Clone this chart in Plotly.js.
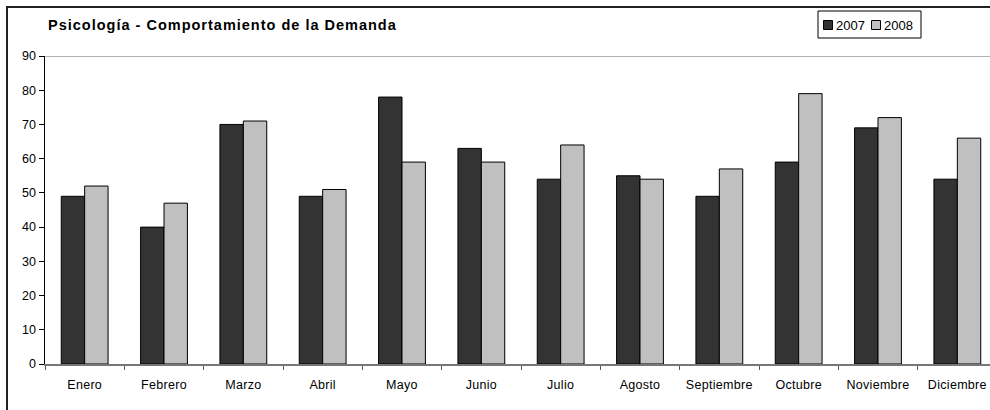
<!DOCTYPE html>
<html>
<head>
<meta charset="utf-8">
<script src="https://cdn.plot.ly/plotly-3.0.1.min.js"></script>
<style>
html,body{margin:0;padding:0;background:#fff;overflow:hidden;width:990px;height:410px;}
#wrap{position:relative;width:990px;height:410px;overflow:hidden;}
#chart{position:absolute;left:0;top:0;}
#frame{position:absolute;left:6px;top:6px;width:1000px;height:420px;border:2px solid #222;pointer-events:none;box-sizing:border-box;}
.gtitle{letter-spacing:1px;}
.xtick text{letter-spacing:0.3px;}
</style>
</head>
<body>
<div id="wrap">
<div id="chart"></div>
<div id="frame"></div>
</div>
<script>
const categories = ["Enero","Febrero","Marzo","Abril","Mayo","Junio","Julio","Agosto","Septiembre","Octubre","Noviembre","Diciembre"];
const seriesNames = ["2007","2008"];
const values2007 = [49,40,70,49,78,63,54,55,49,59,69,54];
const values2008 = [52,47,71,51,59,59,64,54,57,79,72,66];
const yTicks = [0,10,20,30,40,50,60,70,80,90];
const colors = ['#333333','#c0c0c0'];

const W = 1010, H = 410, ML = 45, MR = 13, MT = 56, MB = 46;
const PW = W - ML - MR, PH = H - MT - MB;
const px = v => (v - ML) / PW;
const py = v => (H - MB - v) / PH;

const traces = [
  {type:'bar', name:seriesNames[0], x:categories, y:values2007,
   marker:{color:colors[0], line:{color:'#000000', width:1}}},
  {type:'bar', name:seriesNames[1], x:categories, y:values2008,
   marker:{color:colors[1], line:{color:'#000000', width:1}}}
];

// custom compact legend (Excel style)
const legShapes = [
  {type:'rect', xref:'paper', yref:'paper', x0:px(818), x1:px(921), y0:py(11), y1:py(38),
   line:{color:'#000', width:1}, fillcolor:'#fff'},
  {type:'rect', xref:'paper', yref:'paper', x0:px(823.5), x1:px(832.5), y0:py(20.5), y1:py(29.5),
   line:{color:'#000', width:1}, fillcolor:colors[0]},
  {type:'rect', xref:'paper', yref:'paper', x0:px(871.5), x1:px(880.5), y0:py(20.5), y1:py(29.5),
   line:{color:'#000', width:1}, fillcolor:colors[1]}
];
const legAnn = [
  {xref:'paper', yref:'paper', x:px(834), y:py(25), xanchor:'left', yanchor:'middle',
   text:seriesNames[0], showarrow:false, font:{size:13}},
  {xref:'paper', yref:'paper', x:px(882), y:py(25), xanchor:'left', yanchor:'middle',
   text:seriesNames[1], showarrow:false, font:{size:13}}
];

const layout = {
  width:W, height:H,
  margin:{l:ML, r:MR, t:MT, b:MB},
  paper_bgcolor:'rgba(0,0,0,0)', plot_bgcolor:'#ffffff',
  font:{family:'"Liberation Sans", Arial, sans-serif', size:11, color:'#000'},
  title:{text:'<b>Psicología - Comportamiento de la Demanda</b>',
    font:{size:14.5, color:'#000'}, xref:'container', yref:'container',
    x:48/W, xanchor:'left', y:1-25/H, yanchor:'middle'},
  barmode:'group', bargap:0.41, bargroupgap:0,
  showlegend:false,
  xaxis:{type:'category', tickson:'boundaries', ticks:'outside', ticklen:4, tickcolor:'#555',
    showline:true, linecolor:'#777', linewidth:1.5, showgrid:false, zeroline:false,
    tickfont:{size:12.5}, ticklabelstandoff:8, fixedrange:true},
  yaxis:{range:[0,90], tickvals:yTicks, ticks:'outside', ticklen:5, tickcolor:'#000',
    showline:true, linecolor:'#000', linewidth:1.5, showgrid:false, zeroline:false,
    tickfont:{size:12.5}, fixedrange:true},
  shapes:[{type:'line', xref:'paper', yref:'y', x0:0, x1:1, y0:90, y1:90,
    line:{color:'#999', width:1.5}}].concat(legShapes),
  annotations:legAnn
};

Plotly.newPlot('chart', traces, layout, {displayModeBar:false, staticPlot:true});
</script>
</body>
</html>
